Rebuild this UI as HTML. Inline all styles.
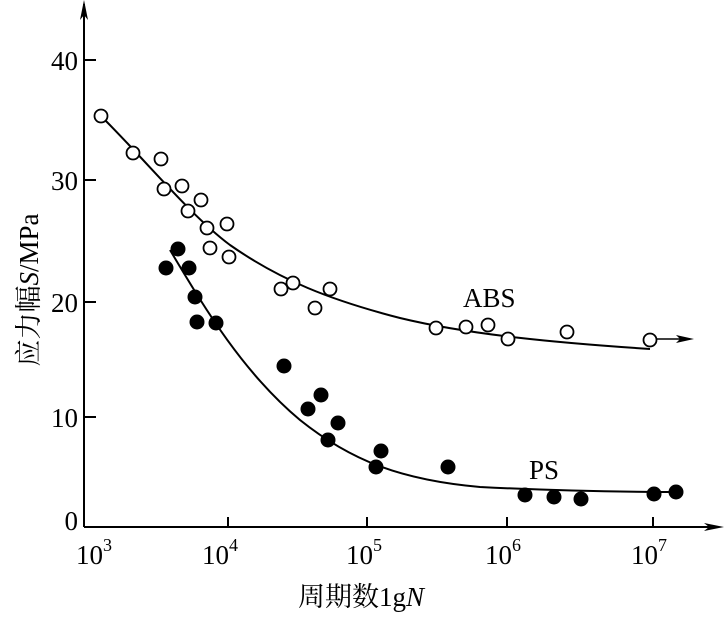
<!DOCTYPE html>
<html><head><meta charset="utf-8"><style>body{margin:0;background:#fff} text{font-family:"Liberation Serif","Noto Serif CJK SC",serif}</style></head><body>
<svg width="724" height="613" viewBox="0 0 724 613" xmlns="http://www.w3.org/2000/svg" fill="#000">
<g stroke="#000" stroke-width="2" fill="none">
<line x1="84" y1="4" x2="84" y2="527"/>
<line x1="84" y1="527" x2="716" y2="527"/>
<line x1="84" y1="60" x2="96" y2="60"/><line x1="84" y1="180" x2="96" y2="180"/><line x1="84" y1="302" x2="96" y2="302"/><line x1="84" y1="417" x2="96" y2="417"/>
<line x1="228" y1="527" x2="228" y2="517"/><line x1="367" y1="527" x2="367" y2="517"/><line x1="507" y1="527" x2="507" y2="517"/><line x1="653" y1="527" x2="653" y2="517"/>
<path d="M101,116 C150,165 190,215 230,245 C280,280 330,300 400,318 C470,335 560,343 650,349"/>
<line x1="657" y1="339" x2="690" y2="339" stroke-width="1.5"/>
<path d="M170,250 C200,300 240,370 300,420 C350,460 400,480 480,487 C560,491 620,492 680,492"/>
</g>
<polygon points="84,0 80,20 84,15 88,20"/>
<polygon points="724,527 704,523 709,527 704,531"/>
<polygon points="694,339 676,335 680,339 676,343"/>
<g font-size="27" text-anchor="end">
<text x="78" y="70">40</text><text x="78" y="190">30</text><text x="78" y="312">20</text><text x="78" y="427">10</text><text x="78" y="530">0</text>
</g>
<g font-size="27">
<text x="76" y="564">10<tspan font-size="18" dy="-13">3</tspan></text>
<text x="202" y="564">10<tspan font-size="18" dy="-13">4</tspan></text>
<text x="346" y="564">10<tspan font-size="18" dy="-13">5</tspan></text>
<text x="485" y="564">10<tspan font-size="18" dy="-13">6</tspan></text>
<text x="631" y="564">10<tspan font-size="18" dy="-13">7</tspan></text>
<text x="463" y="307">ABS</text>
<text x="529" y="479">PS</text>
<text x="298" y="606">周期数1g<tspan font-style="italic">N</tspan></text>
<text transform="translate(38,290) rotate(-90)" text-anchor="middle">应力幅<tspan font-style="italic">S</tspan>/MPa</text>
</g>
<g fill="#fff" stroke="#000" stroke-width="1.8">
<circle cx="101" cy="116" r="6.5"/><circle cx="133" cy="153" r="6.5"/><circle cx="161" cy="159" r="6.5"/><circle cx="164" cy="189" r="6.5"/><circle cx="182" cy="186" r="6.5"/><circle cx="188" cy="211" r="6.5"/><circle cx="201" cy="200" r="6.5"/><circle cx="207" cy="228" r="6.5"/><circle cx="210" cy="248" r="6.5"/><circle cx="227" cy="224" r="6.5"/><circle cx="229" cy="257" r="6.5"/><circle cx="281" cy="289" r="6.5"/><circle cx="293" cy="283" r="6.5"/><circle cx="315" cy="308" r="6.5"/><circle cx="330" cy="289" r="6.5"/><circle cx="436" cy="328" r="6.5"/><circle cx="466" cy="327" r="6.5"/><circle cx="488" cy="325" r="6.5"/><circle cx="508" cy="339" r="6.5"/><circle cx="567" cy="332" r="6.5"/><circle cx="650" cy="340" r="6.5"/>
</g>
<g>
<circle cx="166" cy="268" r="7.5"/><circle cx="178" cy="249" r="7.5"/><circle cx="189" cy="268" r="7.5"/><circle cx="195" cy="297" r="7.5"/><circle cx="197" cy="322" r="7.5"/><circle cx="216" cy="323" r="7.5"/><circle cx="284" cy="366" r="7.5"/><circle cx="308" cy="409" r="7.5"/><circle cx="321" cy="395" r="7.5"/><circle cx="328" cy="440" r="7.5"/><circle cx="338" cy="423" r="7.5"/><circle cx="376" cy="467" r="7.5"/><circle cx="381" cy="451" r="7.5"/><circle cx="448" cy="467" r="7.5"/><circle cx="525" cy="495" r="7.5"/><circle cx="554" cy="497" r="7.5"/><circle cx="581" cy="499" r="7.5"/><circle cx="654" cy="494" r="7.5"/><circle cx="676" cy="492" r="7.5"/>
</g>
</svg>
</body></html>
